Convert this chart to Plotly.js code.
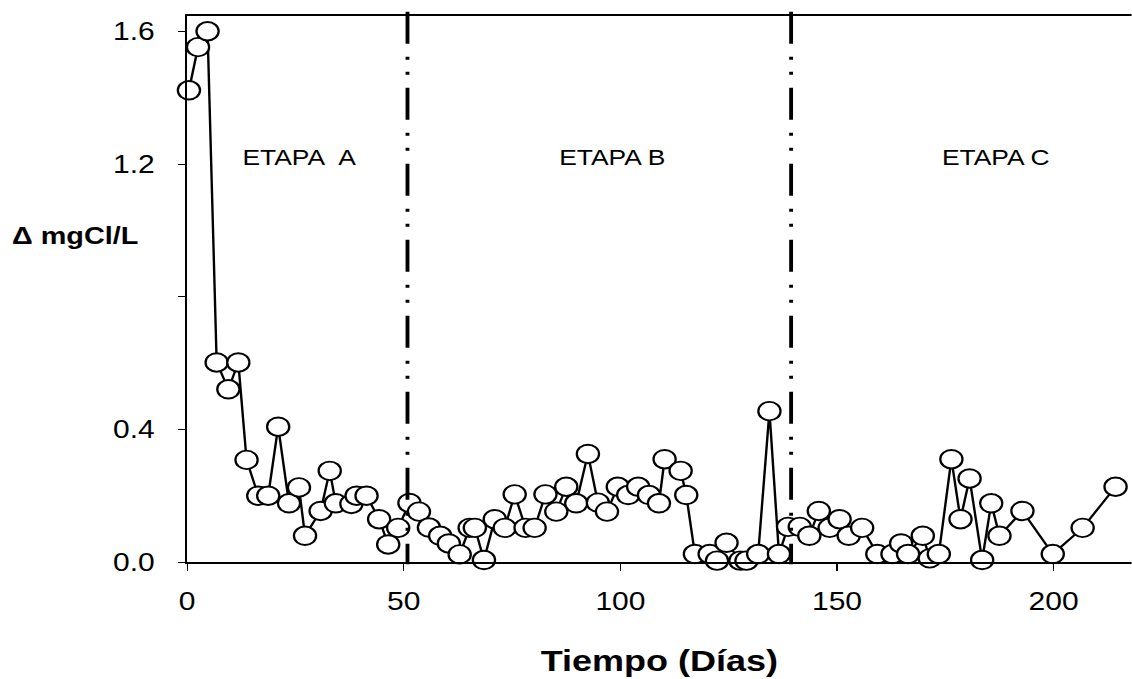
<!DOCTYPE html>
<html>
<head>
<meta charset="utf-8">
<script src="https://cdn.plot.ly/plotly-3.0.1.min.js"></script>
<style>
  html, body { margin: 0; padding: 0; background: #fff; overflow: hidden; }
  #wrap { width: 1132px; height: 679px; overflow: hidden; }
  #plot { transform-origin: 0 0; }
</style>
</head>
<body>
<div id="wrap"><div id="plot"></div></div>
<script>
// ---- data ----
const days = [0.4,2.5,4.7,6.8,9.5,11.8,13.7,16.4,18.7,21.0,23.5,25.8,27.2,30.8,32.9,34.3,37.9,39.1,41.4,44.3,46.4,48.7,51.3,53.5,55.8,58.4,60.4,62.9,65.2,66.4,68.5,71.0,73.3,75.6,78.1,80.2,82.7,85.2,87.5,89.8,92.5,94.8,96.9,99.4,101.8,104.1,106.6,108.9,110.2,113.9,115.2,117.2,120.6,122.3,124.5,127.7,129.1,131.8,134.4,136.6,138.7,141.4,143.6,145.8,148.3,150.6,152.7,155.8,159.3,162.8,164.8,166.4,169.8,171.4,173.5,176.4,178.5,180.6,183.5,185.6,187.5,192.8,199.8,206.7,214.3];
const deltaCl = [1.423,1.553,1.601,0.602,0.521,0.602,0.308,0.200,0.200,0.408,0.177,0.225,0.079,0.154,0.275,0.177,0.175,0.200,0.200,0.129,0.053,0.103,0.178,0.152,0.104,0.079,0.056,0.023,0.103,0.103,0.006,0.129,0.103,0.204,0.103,0.103,0.204,0.152,0.227,0.177,0.326,0.179,0.152,0.227,0.202,0.227,0.202,0.177,0.310,0.275,0.202,0.024,0.024,0.004,0.058,0.004,0.004,0.024,0.455,0.024,0.106,0.106,0.079,0.154,0.103,0.129,0.079,0.103,0.024,0.024,0.056,0.024,0.079,0.011,0.024,0.310,0.129,0.252,0.006,0.177,0.079,0.154,0.024,0.103,0.227];
const stageBounds = [50.85, 139.4];
const stageLabels = ["ETAPA\u00a0 A", "ETAPA B", "ETAPA C"];
const stageLabelX = [26.0, 98.0, 186.7];
const stageLabelY = 1.221;
const yTickVals = [0, 0.4, 0.8, 1.2, 1.6];
const yTickText = ["0.0", "0.4", "", "1.2", "1.6"];
const xTickVals = [0, 50, 100, 150, 200];
const xTitle = "Tiempo (Días)";
const yTitle = "\u0394 mgCl/L";

// the reference is horizontally stretched; draw narrower and stretch
const SX = 1.2;
const W = 1132 / SX, H = 679;
const FONT = "Arial, 'Liberation Sans', sans-serif";
const plotDiv = document.getElementById('plot');
plotDiv.style.width = W + 'px';
plotDiv.style.height = H + 'px';
plotDiv.style.transform = 'scaleX(' + SX + ')';

const trace = {
  x: days, y: deltaCl, type: 'scatter', mode: 'lines+markers',
  cliponaxis: false,
  line: { color: '#000', width: 2 },
  marker: { symbol: 'circle', size: 18.5, color: '#fff', line: { color: '#000', width: 1.9 } },
  hoverinfo: 'skip', showlegend: false
};

const shapes = stageBounds.map(b => ({
  type: 'line', xref: 'x', yref: 'paper', x0: b, x1: b, y0: 1.008, y1: -0.004,
  line: { color: '#000', width: 3.2, dash: '32px,13px,3px,12px,3px,13px' }, layer: 'above'
}));

const annotations = stageLabels.map((t, i) => ({
  text: t, xref: 'x', yref: 'y', x: stageLabelX[i], y: stageLabelY,
  showarrow: false, xanchor: 'center', yanchor: 'middle',
  font: { family: FONT, size: 22, color: '#000' }
}));
annotations.push({
  text: '<b>' + yTitle + '</b>', xref: 'paper', yref: 'paper', x: -0.119, y: 0.5986,
  showarrow: false, xanchor: 'center', yanchor: 'middle',
  font: { family: FONT, size: 24, color: '#000' }
});

const layout = {
  width: W, height: H,
  margin: { l: 156.1, r: 0, t: 15.7, b: 117 },
  paper_bgcolor: '#fff', plot_bgcolor: '#fff',
  font: { family: FONT, color: '#000' },
  xaxis: {
    range: [0, 218], tickvals: xTickVals, ticktext: xTickVals.map(String),
    showline: true, linecolor: '#000', linewidth: 2, mirror: true,
    ticks: 'outside', ticklen: 7, tickwidth: 1, tickcolor: '#000',
    showgrid: false, zeroline: false,
    tickfont: { family: FONT, size: 25, color: '#000' },
    ticklabelstandoff: 9,
    title: { text: '<b>' + xTitle + '</b>', font: { family: FONT, size: 30, color: '#000' }, standoff: 36 },
    automargin: false
  },
  yaxis: {
    range: [0, 1.647], tickvals: yTickVals, ticktext: yTickText,
    showline: true, linecolor: '#000', linewidth: 2,
    ticks: 'outside', ticklen: 6, tickwidth: 1, tickcolor: '#000',
    showgrid: false, zeroline: false,
    tickfont: { family: FONT, size: 25, color: '#000' },
    ticklabelstandoff: 14,
    automargin: false
  },
  shapes: shapes,
  annotations: annotations
};

Plotly.newPlot(plotDiv, [trace], layout, { displayModeBar: false, staticPlot: true });
</script>
</body>
</html>
